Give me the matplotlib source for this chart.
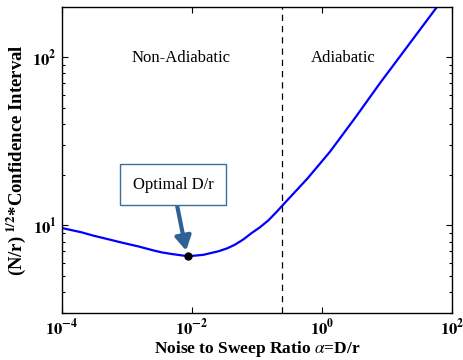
import matplotlib
matplotlib.use("Agg")
import matplotlib.pyplot as plt
import matplotlib.ticker as mticker
import numpy as np

# data
alpha = [1e-4, 2e-4, 3.06e-4, 5e-4, 8.85e-4, 1.5e-3, 2.56e-3, 3.5e-3, 5.0e-3, 8.8e-3,
         1.5e-2, 2.55e-2, 3.5e-2, 4.61e-2, 6.2e-2, 8.33e-2, 0.11, 0.150, 0.20, 0.255,
         0.6, 1.33, 3.2, 7.82, 58.2, 100.0]
ci = [9.65, 9.1, 8.69, 8.3, 7.86, 7.5, 7.10, 6.9, 6.75, 6.55,
      6.68, 7.01, 7.3, 7.68, 8.25, 9.01, 9.7, 10.7, 12.0, 13.3,
      19.0, 27.4, 43.3, 70.1, 198.0, 262.0]
opt_x, opt_y = 8.8e-3, 6.55
boundary_x = 0.246
xticks = [1e-4, 1e-2, 1e0, 1e2]
xticklabels = [r'$\mathbf{10^{-4}}$', r'$\mathbf{10^{-2}}$', r'$\mathbf{10^{0}}$', r'$\mathbf{10^{2}}$']
yticks = [10, 100]
yticklabels = [r'$\mathbf{10^{1}}$', r'$\mathbf{10^{2}}$']

plt.rcParams['font.family'] = ['Liberation Serif', 'DejaVu Serif']
plt.rcParams['mathtext.fontset'] = 'stix'

fig = plt.figure(figsize=(4.63, 3.60), dpi=100)
ax = fig.add_axes([0.1333, 0.1297, 0.8429, 0.8500])

ax.plot(alpha, ci, color='#0000ff', lw=1.6)
ax.plot([opt_x], [opt_y], 'o', color='black', ms=5)
ax.axvline(boundary_x, color='black', ls=(0, (5, 4)), lw=0.9)

ax.set_xscale('log')
ax.set_yscale('log')
ax.set_xlim(1e-4, 1e2)
ax.set_ylim(3.0, 198)

ax.set_xticks(xticks)
ax.set_xticklabels(xticklabels, fontsize=12)
ax.xaxis.set_minor_locator(mticker.NullLocator())
ax.set_yticks(yticks)
ax.set_yticklabels(yticklabels, fontsize=12)
ax.yaxis.set_minor_locator(mticker.LogLocator(base=10, subs=np.arange(2, 10)))
ax.yaxis.set_minor_formatter(mticker.NullFormatter())

ax.tick_params(which='both', direction='in', top=True, right=True)
ax.tick_params(which='major', length=4, width=0.8)
ax.tick_params(which='minor', length=2.5, width=0.8)
for s in ax.spines.values():
    s.set_linewidth(1.0)

ax.set_xlabel(r'Noise to Sweep Ratio $\alpha$=D/r', fontsize=12.5, fontweight='bold', labelpad=0)
ax.set_ylabel(r'(N/r)$^{\mathbf{\ 1/2}}$*Confidence Interval', fontsize=13.5, fontweight='bold', labelpad=3)

ax.text(6.8e-3, 99, 'Non-Adiabatic', fontsize=12, ha='center', va='center')
ax.text(2.1, 99, 'Adiabatic', fontsize=12, ha='center', va='center')

ax.annotate('Optimal D/r', xy=(opt_x * 0.93, opt_y * 1.08), xytext=(173 / 463, 1 - 185 / 360),
            textcoords='figure fraction', fontsize=12, ha='center', va='center',
            bbox=dict(boxstyle='square,pad=0.75', fc='white', ec='#3a6e9e', lw=1.0),
            arrowprops=dict(arrowstyle='-|>,head_length=0.7,head_width=0.4', color='#2f6294',
                            lw=3, shrinkA=0, shrinkB=0))

fig.savefig('out.png', dpi=100)
